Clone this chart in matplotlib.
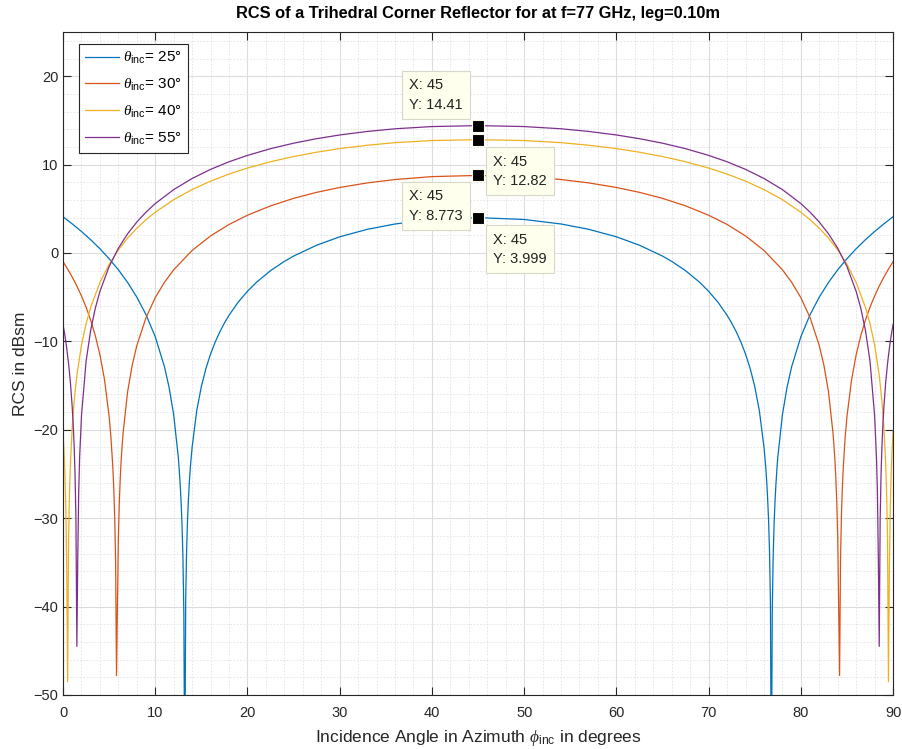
#import libs
import numpy as np
import matplotlib
matplotlib.use("Agg")
import matplotlib.pyplot as plt
from matplotlib.ticker import MultipleLocator

plt.rcParams['font.family'] = ['Liberation Sans', 'DejaVu Sans']
plt.rcParams['mathtext.fontset'] = 'custom'
plt.rcParams['mathtext.rm'] = 'Liberation Sans'
plt.rcParams['mathtext.it'] = 'Liberation Serif:italic'

#values for 0..45 deg (the pattern is mirrored about 45 deg)
theta_inc = [25, 30, 40, 55]

phi_25 = [0, 1, 2, 3, 4, 5, 6, 7, 8, 9, 10, 11, 11.5, 12, 12.5, 12.6, 12.7, 12.8, 12.9, 13.0, 13.1, 13.2,
          13.3, 13.4, 13.5, 13.6, 13.7, 13.8, 14.0, 14.5, 15, 15.5, 16, 16.5, 17, 17.5, 18, 19, 20, 21,
          22.5, 24, 25, 27.5, 30, 33, 36, 40, 45]
rcs_25 = [4.10, 3.29, 2.43, 1.50, 0.48, -0.65, -1.90, -3.33, -4.99, -6.98, -9.48, -12.88, -15.20, -18.31, -23.11,
          -24.53, -26.15, -28.10, -30.69, -34.36, -40.8, -60.6, -39.2, -33.60, -30.19, -27.80, -25.85, -24.29,
          -21.94, -17.83, -15.09, -13.05, -11.42, -10.07, -8.92, -7.92, -7.04, -5.55, -4.33, -3.29,
          -2.00, -0.95, -0.35, 0.88, 1.83, 2.68, 3.28, 3.79, 3.999]

phi_30 = [0, 0.5, 1, 1.5, 2, 2.5, 3, 3.5, 4, 4.5, 5, 5.2, 5.4, 5.5, 5.6, 5.7, 5.8, 5.9, 6.0, 6.1, 6.2, 6.3,
          6.5, 7, 7.5, 8, 9, 10, 11, 12, 14, 16, 18, 20, 22.5, 25, 27.5, 30, 33, 36, 40, 45]
rcs_30 = [-0.98, -1.82, -2.73, -3.74, -4.86, -6.13, -7.60, -9.35, -11.50, -14.34, -18.50, -20.92, -24.27, -26.63,
          -29.76, -34.79, -47.8, -39.8, -32.28, -28.27, -25.60, -23.48, -20.49, -15.72, -12.69, -10.48, -7.31,
          -5.05, -3.31, -1.90, 0.29, 1.93, 3.23, 4.27, 5.33, 6.18, 6.86, 7.41, 7.93, 8.31, 8.64, 8.773]

phi_40 = [0, 0.1, 0.2, 0.3, 0.4, 0.5, 0.6, 0.7, 0.8, 1.0, 1.2, 1.5, 2, 2.5, 3, 4, 5, 6, 7, 8, 9, 10,
          12, 14, 16, 18, 20, 22.5, 25, 27.5, 30, 33, 36, 40, 45]
rcs_40 = [-20.16, -22.19, -24.84, -28.68, -35.61, -48.5, -32.43, -27.09, -23.85, -19.64, -16.82, -13.83, -10.41,
          -8.00, -6.13, -3.34, -1.28, 0.34, 1.68, 2.80, 3.77, 4.61, 6.03, 7.18, 8.13, 8.93, 9.61, 10.32, 10.91,
          11.40, 11.81, 12.19, 12.48, 12.72, 12.82]

phi_55 = [0, 0.2, 0.4, 0.6, 0.8, 1.0, 1.1, 1.2, 1.3, 1.4, 1.5, 1.6, 1.7, 1.8, 2.0, 2.5, 3, 3.5, 4, 5, 6, 7,
          8, 9, 10, 12, 14, 16, 18, 20, 22.5, 25, 27.5, 30, 33, 36, 40, 45]
rcs_55 = [-8.08, -9.33, -10.78, -12.51, -14.65, -17.49, -19.34, -21.70, -24.93, -30.09, -44.5, -34.24, -26.99,
          -23.12, -18.42, -12.25, -8.72, -6.25, -4.35, -1.53, 0.54, 2.17, 3.50, 4.62, 5.59, 7.17, 8.43, 9.46,
          10.32, 11.04, 11.80, 12.42, 12.93, 13.35, 13.75, 14.05, 14.30, 14.41]

#data tips at phi = 45
tip_y = [3.999, 8.773, 12.82, 14.41]
tip_txt = ['3.999', '8.773', '12.82', '14.41']

colors = ['#0072BD', '#D95319', '#EDB120', '#7E2F8E']

fig = plt.figure(figsize=(9.03, 7.49), dpi=100)
ax = fig.add_axes([0.0698, 0.0721, 0.9192, 0.8852])

for th, ph, r, c in zip(theta_inc, [phi_25, phi_30, phi_40, phi_55],
                        [rcs_25, rcs_30, rcs_40, rcs_55], colors):
    ph = np.array(ph)
    r = np.array(r)
    #mirror the half pattern onto 45..90
    x = np.concatenate([ph, 90 - ph[::-1][1:]])
    y = np.concatenate([r, r[::-1][1:]])
    ax.plot(x, y, color=c, lw=0.9, label=r'$\theta_{\mathrm{inc}}$= %d°' % th)

ax.set_xlim(0, 90)
ax.set_ylim(-50, 25)
ax.set_xticks(np.arange(0, 91, 10))
ax.set_yticks(np.arange(-50, 21, 10))
ax.xaxis.set_minor_locator(MultipleLocator(2))
ax.yaxis.set_minor_locator(MultipleLocator(2))
ax.grid(True, which='major', color='#dcdcdc', lw=0.8)
ax.grid(True, which='minor', color='#e2e2e2', lw=0.6, ls=(0, (2, 2)))
ax.set_axisbelow(True)
ax.tick_params(which='both', direction='in', top=True, right=True, colors='#262626', labelsize=10.5)
ax.tick_params(which='minor', length=0)
ax.tick_params(which='major', length=6)
ax.tick_params(axis='x', pad=8)
for s in ax.spines.values():
    s.set_color('#262626')
    s.set_linewidth(0.8)

ax.set_title('RCS of a Trihedral Corner Reflector for at f=77 GHz, leg=0.10m',
             fontsize=11.8, fontweight='bold', pad=10)
ax.set_xlabel(r'Incidence Angle in Azimuth $\phi_{\mathrm{inc}}$ in degrees', fontsize=12.5,
              color='#262626', labelpad=6)
ax.set_ylabel('RCS in dBsm', fontsize=12.5, color='#262626')

leg = ax.legend(loc='upper left', bbox_to_anchor=(0.019, 0.982), fontsize=11, fancybox=False,
                edgecolor='#262626', framealpha=1, handlelength=2.2, handletextpad=0.3,
                borderpad=0.4, labelspacing=0.7, borderaxespad=0)
leg.get_frame().set_linewidth(0.8)

#datatip boxes: (dx, dy, ha, va) offsets in pixels from the marker
tip_pos = [(15, -15, 'left', 'top'), (-15, -14, 'right', 'top'),
           (15, -15, 'left', 'top'), (-15, 14, 'right', 'bottom')]
for yv, t, (dx, dy, ha, va) in zip(tip_y, tip_txt, tip_pos):
    ax.plot(45, yv, 's', ms=8, mfc='black', mec='#ffffee', mew=0.8, zorder=5)
    ax.annotate('X: 45\nY: ' + t, xy=(45, yv), xytext=(dx, dy), textcoords='offset pixels',
                ha=ha, va=va, multialignment='left', fontsize=10.5, linespacing=1.5, color='#222222',
                bbox=dict(boxstyle='square,pad=0.5', fc='#ffffee', ec='#d8d8c8', lw=0.8), zorder=6)

plt.savefig('out.png', dpi=100)
